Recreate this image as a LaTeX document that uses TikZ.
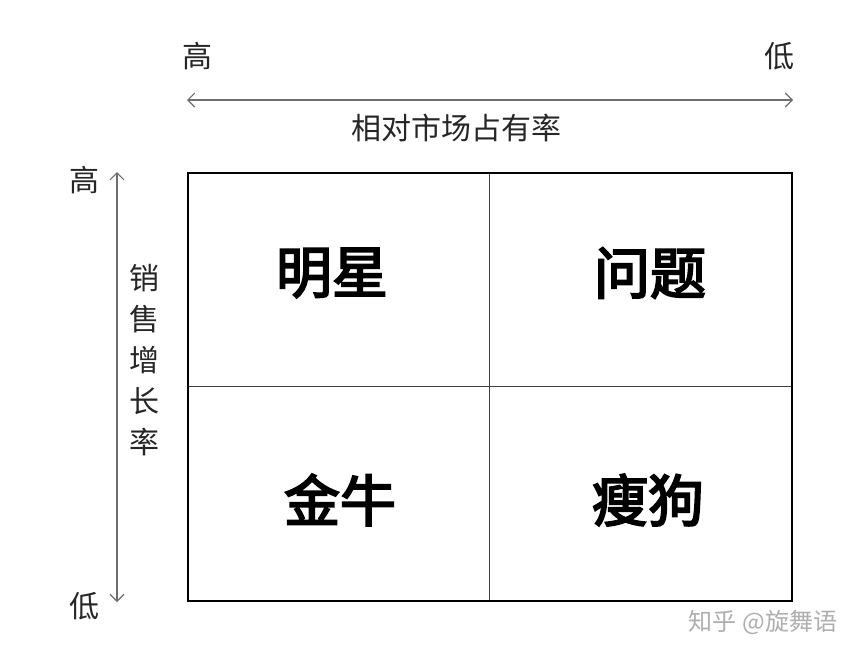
\documentclass[tikz,border=0pt]{standalone}
\usepackage{fontspec}
\newfontfamily\cjk{Noto Sans CJK SC}
\newfontfamily\cjkbold[FakeBold=3.5]{Noto Sans CJK SC}
\usetikzlibrary{arrows.meta}
\definecolor{axisgray}{RGB}{110,110,110}
\definecolor{wmgray}{RGB}{175,175,175}
\tikzset{
  axislbl/.style={font=\cjk\fontsize{30}{30}\selectfont, text=black!85, inner sep=0pt},
  quad/.style={font=\cjkbold\fontsize{56}{56}\selectfont, inner sep=0pt},
  axisarrow/.style={draw=axisgray, line width=1.1pt, {Straight Barb[length=7pt,width=14pt]}-{Straight Barb[length=7pt,width=14pt]}},
  divider/.style={draw=black!75, line width=1pt},
  frame/.style={draw=black, line width=2.4pt},
  wm/.style={font=\cjk\fontsize{24}{24}\selectfont, text=wmgray, inner sep=0pt}
}
\begin{document}
\begin{tikzpicture}[x=1pt,y=-1pt]
\useasboundingbox (0,0) rectangle (865,654);
\fill[white] (0,0) rectangle (865,654);
% frame and dividers
\coordinate (tl) at (188,173);
\coordinate (br) at (792,601);
\coordinate (vt) at (489,173);
\coordinate (vb) at (489,601);
\coordinate (hl) at (188,386);
\coordinate (hr) at (792,386);
\draw[divider] (vt) -- (vb);
\draw[divider] (hl) -- (hr);
\draw[frame] (tl) rectangle (br);
% quadrant labels
\node[quad] (star) at (332,273) {明星};
\node[quad] (quest) at (650,273) {问题};
\node[quad] (cow) at (340,500) {金牛};
\node[quad] (dog) at (648,500) {瘦狗};
% top axis
\node[axislbl] (thigh) at (197,56) {高};
\node[axislbl] (tlow) at (779,56) {低};
\coordinate (ha) at (187,100);
\coordinate (hb) at (793,100);
\draw[axisarrow] (ha) -- (hb);
\node[axislbl] (htitle) at (456,128) {相对市场占有率};
% left axis
\node[axislbl] (lhigh) at (84,180) {高};
\node[axislbl] (llow) at (84,606) {低};
\coordinate (va) at (117,172);
\coordinate (vb2) at (117,602);
\draw[axisarrow] (va) -- (vb2);
\node[axislbl, align=center, font=\cjk\fontsize{30}{41}\selectfont] (vtitle) at (144,360) {销\\售\\增\\长\\率};
% watermark
\node[wm] (mark) at (763,622) {知乎 @旋舞语};
\end{tikzpicture}
\end{document}
